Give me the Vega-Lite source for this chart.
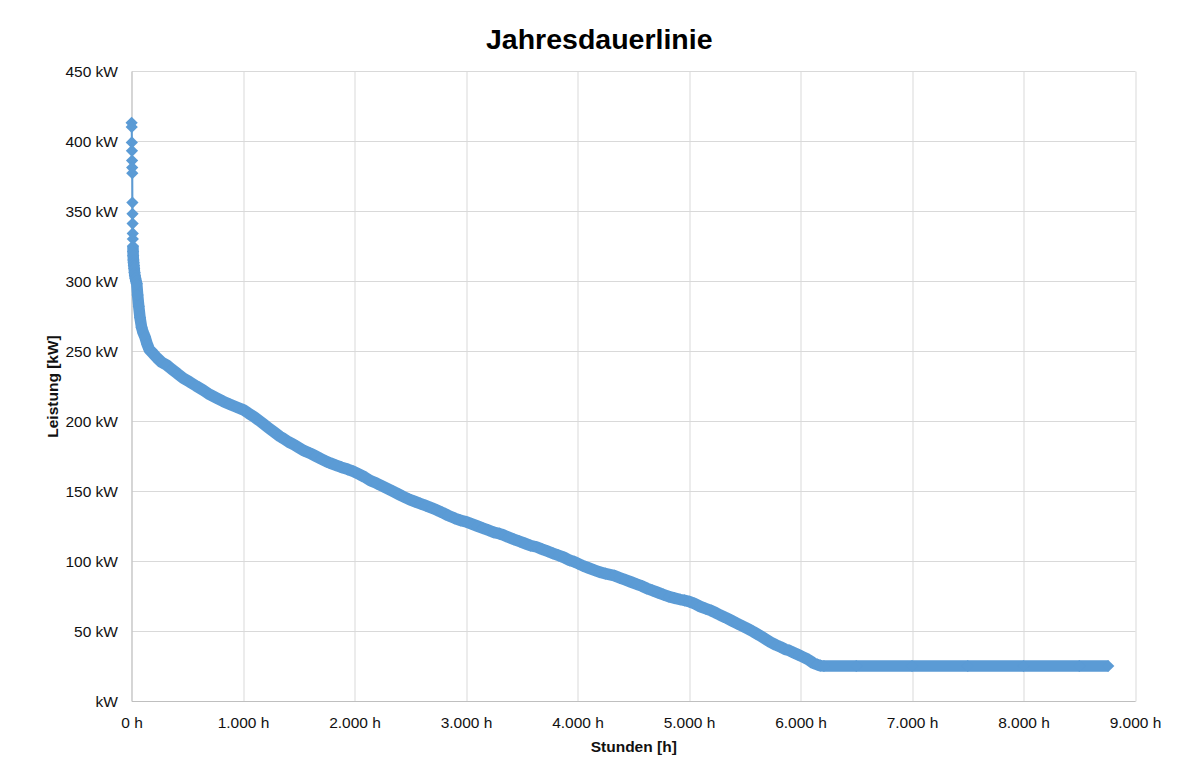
{
  "$schema": "https://vega.github.io/schema/vega-lite/v6.json",
  "width": 1003.5,
  "height": 630,
  "autosize": {"type": "none"},
  "padding": {"left": 131.5, "top": 71, "right": 52, "bottom": 69},
  "background": "white",
  "title": {
    "text": "Jahresdauerlinie",
    "font": "Liberation Sans",
    "fontSize": 28.5,
    "fontWeight": "bold",
    "color": "#000000",
    "anchor": "middle",
    "dx": -34,
    "dy": 28,
    "baseline": "alphabetic",
    "offset": 15
  },
  "config": {
    "view": {"stroke": null},
    "axis": {
      "labelFont": "Liberation Sans",
      "labelFontSize": 15.5,
      "labelColor": "#111111",
      "titleFont": "Liberation Sans",
      "titleFontSize": 15.5,
      "titleFontWeight": "bold",
      "titleColor": "#111111",
      "gridColor": "#D9D9D9",
      "gridWidth": 1,
      "domainColor": "#BFBFBF",
      "domainWidth": 1,
      "ticks": false,
      "tickSize": 0
    }
  },
  "data": {
    "values": [
      {"h":1,"kw":413},{"h":2,"kw":410},{"h":3,"kw":399},{"h":4,"kw":393},{"h":5,"kw":386},{"h":6,"kw":381},{"h":7,"kw":377},{"h":8,"kw":356},{"h":9,"kw":348},{"h":10,"kw":341},{"h":11,"kw":334},{"h":12,"kw":330},{"h":13,"kw":325},{"h":14,"kw":321},{"h":15,"kw":318},{"h":17,"kw":315},{"h":19,"kw":313},{"h":21,"kw":311},{"h":24,"kw":309},{"h":27,"kw":306},{"h":30,"kw":304},{"h":35,"kw":302},{"h":40,"kw":300},{"h":47,"kw":298},{"h":55,"kw":290},{"h":65,"kw":282},{"h":76,"kw":274},{"h":90,"kw":267},{"h":105,"kw":263},{"h":121,"kw":260},{"h":140,"kw":255},{"h":160,"kw":251},{"h":196,"kw":248},{"h":230,"kw":245},{"h":270,"kw":242},{"h":315,"kw":240},{"h":360,"kw":237},{"h":410,"kw":234},{"h":465,"kw":230.5},{"h":520,"kw":228},{"h":580,"kw":225},{"h":644,"kw":222},{"h":700,"kw":219},{"h":760,"kw":216.5},{"h":823,"kw":214},{"h":880,"kw":212},{"h":940,"kw":210},{"h":1003,"kw":208},{"h":1050,"kw":205.5},{"h":1100,"kw":203},{"h":1150,"kw":200},{"h":1182,"kw":198},{"h":1230,"kw":195},{"h":1280,"kw":192},{"h":1330,"kw":189},{"h":1362,"kw":187.5},{"h":1410,"kw":185},{"h":1460,"kw":183},{"h":1500,"kw":181},{"h":1541,"kw":179},{"h":1600,"kw":177},{"h":1650,"kw":175},{"h":1700,"kw":173},{"h":1750,"kw":171},{"h":1780,"kw":170},{"h":1830,"kw":168.5},{"h":1880,"kw":167},{"h":1940,"kw":165.5},{"h":1989,"kw":164},{"h":2040,"kw":162},{"h":2090,"kw":160},{"h":2140,"kw":157.5},{"h":2199,"kw":155.5},{"h":2250,"kw":153.5},{"h":2300,"kw":151.5},{"h":2350,"kw":149.5},{"h":2400,"kw":147.5},{"h":2438,"kw":146},{"h":2490,"kw":144},{"h":2540,"kw":142.5},{"h":2590,"kw":141},{"h":2640,"kw":139.5},{"h":2690,"kw":138},{"h":2737,"kw":136.4},{"h":2790,"kw":134.5},{"h":2840,"kw":132.5},{"h":2900,"kw":130.5},{"h":2950,"kw":129},{"h":3003,"kw":128},{"h":3050,"kw":126.5},{"h":3100,"kw":125},{"h":3150,"kw":123.5},{"h":3200,"kw":122},{"h":3250,"kw":120.5},{"h":3300,"kw":119.5},{"h":3335,"kw":118.6},{"h":3380,"kw":117},{"h":3430,"kw":115.5},{"h":3480,"kw":114},{"h":3530,"kw":112.5},{"h":3580,"kw":111},{"h":3634,"kw":110},{"h":3680,"kw":108.5},{"h":3730,"kw":107},{"h":3780,"kw":105.5},{"h":3830,"kw":104},{"h":3880,"kw":102.5},{"h":3930,"kw":100.5},{"h":3970,"kw":99.5},{"h":4002,"kw":98.3},{"h":4050,"kw":96.5},{"h":4100,"kw":95},{"h":4150,"kw":93.5},{"h":4200,"kw":92},{"h":4250,"kw":91},{"h":4330,"kw":89.5},{"h":4380,"kw":88},{"h":4430,"kw":86.5},{"h":4480,"kw":85},{"h":4530,"kw":83.5},{"h":4580,"kw":82},{"h":4620,"kw":80.5},{"h":4670,"kw":79},{"h":4720,"kw":77.5},{"h":4770,"kw":76},{"h":4820,"kw":74.5},{"h":4870,"kw":73.5},{"h":4920,"kw":72.5},{"h":4960,"kw":71.8},{"h":5003,"kw":71},{"h":5050,"kw":69.5},{"h":5100,"kw":67.5},{"h":5150,"kw":66},{"h":5200,"kw":64.5},{"h":5240,"kw":63},{"h":5278,"kw":61.4},{"h":5330,"kw":59.5},{"h":5380,"kw":57.5},{"h":5430,"kw":55.5},{"h":5480,"kw":53.5},{"h":5530,"kw":51.5},{"h":5577,"kw":49.5},{"h":5630,"kw":47},{"h":5680,"kw":44.5},{"h":5730,"kw":42},{"h":5780,"kw":40},{"h":5816,"kw":38.8},{"h":5860,"kw":37},{"h":5900,"kw":36},{"h":5940,"kw":34.5},{"h":5980,"kw":33},{"h":6020,"kw":31.5},{"h":6060,"kw":30},{"h":6090,"kw":28.5},{"h":6115,"kw":27},{"h":6150,"kw":26},{"h":6180,"kw":25.2},{"h":6210,"kw":25},{"h":6500,"kw":25},{"h":7000,"kw":25},{"h":7500,"kw":25},{"h":8000,"kw":25},{"h":8500,"kw":25},{"h":8760,"kw":25}
    ]
  },
  "encoding": {
    "x": {
      "field": "h",
      "type": "quantitative",
      "scale": {"domain": [0, 9000], "nice": false, "zero": false},
      "axis": {
        "title": "Stunden [h]",
        "values": [0, 1000, 2000, 3000, 4000, 5000, 6000, 7000, 8000, 9000],
        "labelExpr": "replace(format(datum.value, ','), ',', '.') + ' h'",
        "labelPadding": 14.5,
        "titlePadding": 8,
        "labelFlush": false,
        "labelOverlap": false
      }
    },
    "y": {
      "field": "kw",
      "type": "quantitative",
      "scale": {"domain": [0, 450], "nice": false},
      "axis": {
        "title": "Leistung [kW]",
        "values": [0, 50, 100, 150, 200, 250, 300, 350, 400, 450],
        "labelExpr": "datum.value == 0 ? 'kW' : datum.value + ' kW'",
        "labelPadding": 14,
        "titlePadding": 4,
        "labelFlush": false,
        "labelOverlap": false
      }
    }
  },
  "layer": [
    {
      "mark": {"type": "line", "color": "#5B9BD5", "strokeWidth": 2, "clip": false}
    },
    {
      "transform": [{"filter": "datum.h >= 13"}],
      "mark": {"type": "line", "color": "#5B9BD5", "strokeWidth": 11.5, "strokeCap": "butt", "strokeJoin": "round"}
    },
    {
      "mark": {"type": "point", "shape": "diamond", "filled": true, "size": 150, "color": "#5B9BD5", "opacity": 1}
    }
  ]
}
